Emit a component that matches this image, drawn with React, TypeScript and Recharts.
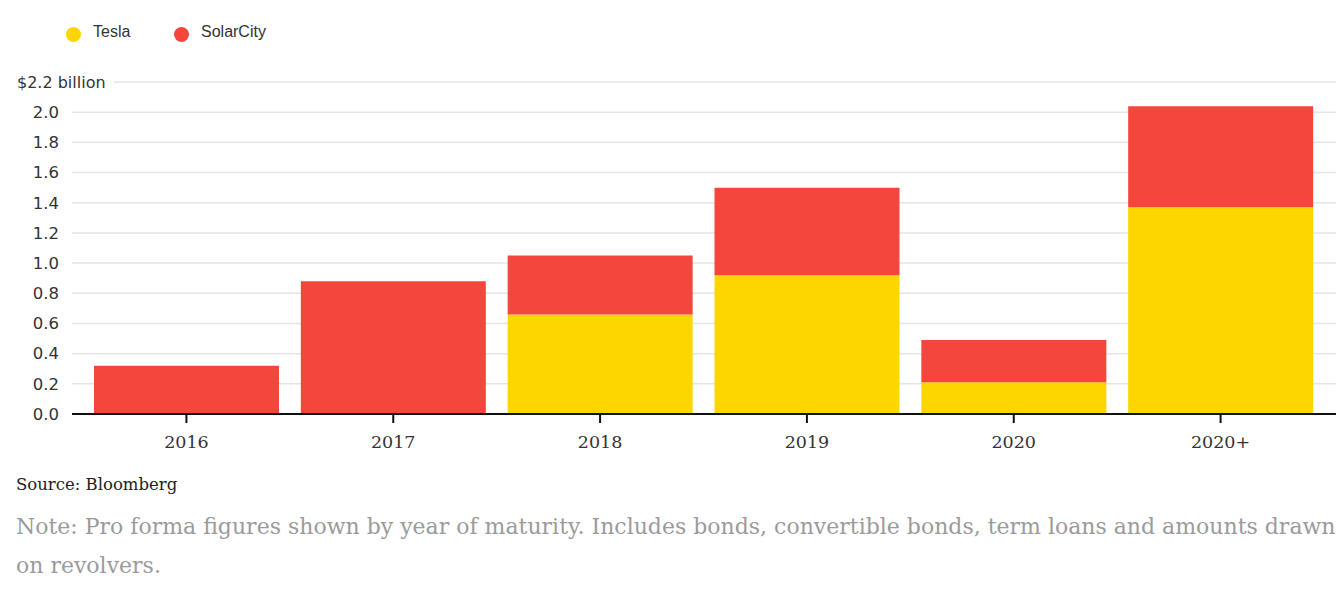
import React from "react";
import { BarChart, Bar, XAxis, YAxis, CartesianGrid } from "recharts";

// Data (billions of dollars, by year of maturity)
const YEARS = ["2016", "2017", "2018", "2019", "2020", "2020+"];
const TESLA = [0, 0, 0.66, 0.92, 0.21, 1.37];
const SOLARCITY = [0.32, 0.88, 0.39, 0.58, 0.28, 0.67];
const Y_TICKS = [0, 0.2, 0.4, 0.6, 0.8, 1.0, 1.2, 1.4, 1.6, 1.8, 2.0, 2.2];

const TESLA_COLOR = "#fdd600";
const SOLAR_COLOR = "#f5463e";
const SANS = "'Liberation Sans', Arial, sans-serif";
const TICK_SANS = "'DejaVu Sans', sans-serif";
const SERIF = "'DejaVu Serif', serif";

const data = YEARS.map((year, i) => ({
  year,
  tesla: TESLA[i],
  solarcity: SOLARCITY[i],
}));

// y tick: top one reads "$2.2 billion", left aligned, with a white patch over the grid
const YTick = (props: any) => {
  const { y, payload } = props;
  if (payload.value === 2.2) {
    return (
      <g>
        <rect x={14} y={y - 10} width={100} height={20} fill="#fff" />
        <text x={17} y={y} dy="0.35em" fontSize={16} fill="#333" fontFamily={TICK_SANS}>
          $2.2 billion
        </text>
      </g>
    );
  }
  return (
    <text x={59} y={y} dy="0.35em" textAnchor="end" fontSize={16.5} fill="#333" fontFamily={TICK_SANS}>
      {payload.value.toFixed(1)}
    </text>
  );
};

const LegendItem = ({ color, label, x }: { color: string; label: string; x: number }) => (
  <div style={{ position: "absolute", left: x, top: 21, display: "flex", alignItems: "center" }}>
    <span
      style={{ width: 15, height: 15, borderRadius: "50%", background: color, display: "inline-block", marginTop: 6 }}
    />
    <span style={{ marginLeft: 12, fontFamily: SANS, fontSize: 16, color: "#333" }}>{label}</span>
  </div>
);

export default function App() {
  return (
    <div style={{ position: "absolute", left: 0, top: 0, width: 1339, height: 589, background: "#fff" }}>
      <LegendItem color={TESLA_COLOR} label="Tesla" x={66} />
      <LegendItem color={SOLAR_COLOR} label="SolarCity" x={174} />

      <div style={{ position: "absolute", left: 0, top: 0 }}>
        <BarChart
          width={1339}
          height={460}
          data={data}
          margin={{ top: 82, right: 3, left: 0, bottom: 0 }}
          barCategoryGap={11}
        >
          <CartesianGrid vertical={false} stroke="#e3e5ea" strokeWidth={1.5} />
          <XAxis
            dataKey="year"
            padding={{ left: 11, right: 12 }}
            height={46}
            axisLine={{ stroke: "#111", strokeWidth: 2 }}
            tickLine={{ stroke: "#111", strokeWidth: 2 }}
            tickSize={9}
            tickMargin={13}
            tick={{ fontSize: 17.5, fill: "#333", fontFamily: SERIF }}
          />
          <YAxis
            width={72}
            domain={[0, 2.2]}
            ticks={Y_TICKS}
            interval={0}
            axisLine={false}
            tickLine={false}
            tick={<YTick />}
          />
          <Bar dataKey="tesla" stackId="a" fill={TESLA_COLOR} isAnimationActive={false} />
          <Bar dataKey="solarcity" stackId="a" fill={SOLAR_COLOR} isAnimationActive={false} />
        </BarChart>
      </div>

      <div
        style={{
          position: "absolute",
          left: 16,
          top: 475,
          fontFamily: SERIF,
          fontSize: 16.5,
          color: "#222",
          whiteSpace: "nowrap",
        }}
      >
        Source: Bloomberg
      </div>
      <div
        style={{
          position: "absolute",
          left: 16,
          top: 507,
          fontFamily: SERIF,
          fontSize: 22,
          lineHeight: "39px",
          color: "#9b9b9b",
          whiteSpace: "nowrap",
        }}
      >
        Note: Pro forma figures shown by year of maturity. Includes bonds, convertible bonds, term loans and amounts drawn
        <br />
        on revolvers.
      </div>
    </div>
  );
}
